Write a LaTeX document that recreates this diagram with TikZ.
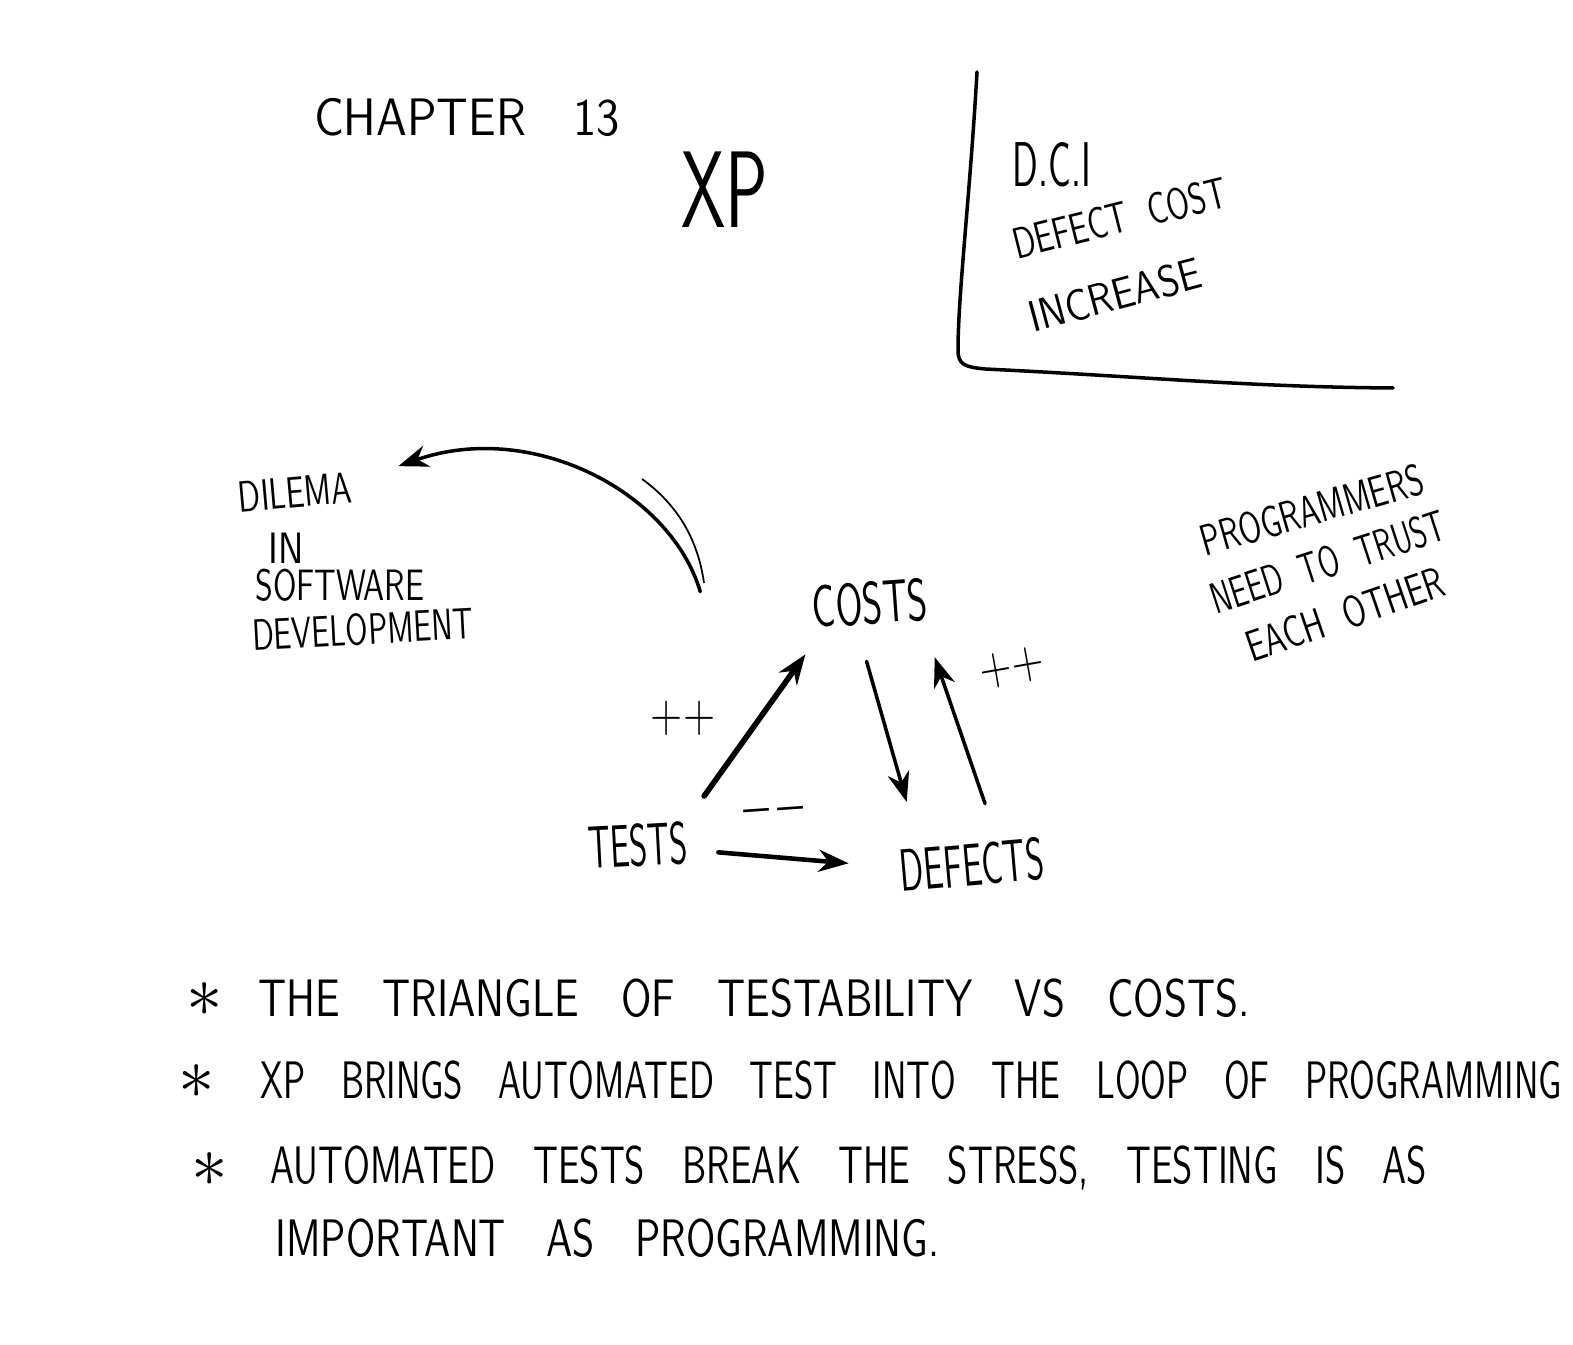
\documentclass[tikz,border=0pt]{standalone}
\usetikzlibrary{arrows.meta}

\tikzset{
  hand/.style={font=\sffamily\fontsize{15}{18}\selectfont, inner sep=0pt, execute at begin node={\spaceskip=1em\relax}},
  smallhand/.style={font=\sffamily\fontsize{12.5}{15}\selectfont, inner sep=0pt},
  bighand/.style={font=\sffamily\fontsize{17}{20}\selectfont, inner sep=0pt},
  pen/.style={line width=1pt, line cap=round},
  tip/.style={-{Stealth[length=3mm,width=2.2mm]}},
}

\begin{document}
\begin{tikzpicture}[line join=round]
        \useasboundingbox (0,0) rectangle (15.73,13.45);

        % heading
        \node[hand, xscale=.9] (chap) at (4.67,12.28) {CHAPTER 13};
        \node[font=\sffamily\fontsize{31}{34}\selectfont, inner sep=0pt, xscale=.65] (xp) at (7.25,11.55) {XP};

        % defect cost increase box
        \draw[pen] (9.77,12.73) .. controls (9.70,11.5) and (9.58,10.5) .. (9.58,9.95)
              .. controls (9.58,9.80) and (9.65,9.78) .. (9.85,9.76)
              .. controls (11.5,9.68) and (12.5,9.58) .. (13.93,9.57);
        \node[font=\sffamily\fontsize{18}{20}\selectfont, inner sep=0pt, xscale=.6] (dci) at (10.52,11.80) {D.C.I};
        \node[smallhand, rotate=14, xscale=.72] (defcost) at (11.20,11.27) {DEFECT \ COST};
        \node[smallhand, rotate=15, xscale=.88] (incr) at (11.15,10.50) {INCREASE};

        % dilemma
        \node[smallhand, anchor=west, rotate=5, xscale=.72] (dilema) at (2.38,8.48) {DILEMA};
        \node[smallhand, anchor=west, xscale=.84] (in) at (2.68,7.97) {IN};
        \node[smallhand, anchor=west, xscale=.74] (software) at (2.55,7.60) {SOFTWARE};
        \node[smallhand, anchor=west, rotate=3, xscale=.70] (devel) at (2.52,7.10) {DEVELOPMENT};

        % trust
        \node[smallhand, rotate=16, xscale=.71] (prog) at (13.12,8.35) {PROGRAMMERS};
        \node[smallhand, rotate=18, xscale=.66] (need) at (13.28,7.83) {NEED \ TO \ TRUST};
        \node[smallhand, rotate=19, xscale=.73] (each) at (13.45,7.31) {EACH \ OTHER};

        % triangle
        \node[bighand, rotate=4, xscale=.65] (costs) at (8.70,7.42) {COSTS};
        \node[bighand, rotate=3, xscale=.58] (tests) at (6.38,5.00) {TESTS};
        \node[bighand, rotate=5, xscale=.59] (defects) at (9.72,4.80) {DEFECTS};

        \draw[pen, line width=1.6pt, tip] ([shift={(.17,.24)}]tests.north east) -- ([shift={(-.08,-.25)}]costs.south west);
        \draw[pen, tip] ([shift={(-.05,-.36)}]costs.south) -- ([shift={(.09,.47)}]defects.north west);
        \draw[pen, tip] ([shift={(.15,.39)}]defects.north) -- ([shift={(.05,-.36)}]costs.south east);
        \draw[pen, line width=1.3pt, tip] ([shift={(.3,-.1)}]tests.east) -- ([shift={(-.51,.08)}]defects.west);

        \node[hand, xscale=.8] (pp1) at (6.83,6.27) {++};
        \node[hand, rotate=10, xscale=.8] (pp2) at (10.12,6.77) {++};
        \node[smallhand, rotate=4, xscale=1.2] (mm) at (7.74,5.30) {--\,--};

        \draw[pen, tip] ([shift={(-1.1,-.07)}]costs.north west) .. controls (6.70,8.55) and (5.30,9.25) .. ([shift={(.48,.05)}]dilema.north east);
        \draw[line width=.5pt] (7.04,7.62) .. controls (6.98,8.05) and (6.78,8.40) .. (6.42,8.66);

        % notes
        \node[font=\fontsize{20}{20}\selectfont, inner sep=0pt] (b1) at (2.05,3.45) {$\ast$};
        \node[hand, anchor=west, xscale=.80] (line1) at (2.58,3.47) {THE TRIANGLE OF TESTABILITY VS COSTS.};
        \node[font=\fontsize{20}{20}\selectfont, inner sep=0pt] (b2) at (1.97,2.63) {$\ast$};
        \node[hand, anchor=west, xscale=.675] (line2) at (2.60,2.65) {XP BRINGS AUTOMATED TEST INTO THE LOOP OF PROGRAMMING};
        \node[font=\fontsize{20}{20}\selectfont, inner sep=0pt] (b3) at (2.10,1.75) {$\ast$};
        \node[hand, anchor=west, xscale=.707] (line3) at (2.70,1.77) {AUTOMATED TESTS BREAK THE STRESS, TESTING IS AS};
        \node[hand, anchor=west, xscale=.77] (line4) at (2.75,1.07) {IMPORTANT AS PROGRAMMING.};
\end{tikzpicture}
\end{document}
